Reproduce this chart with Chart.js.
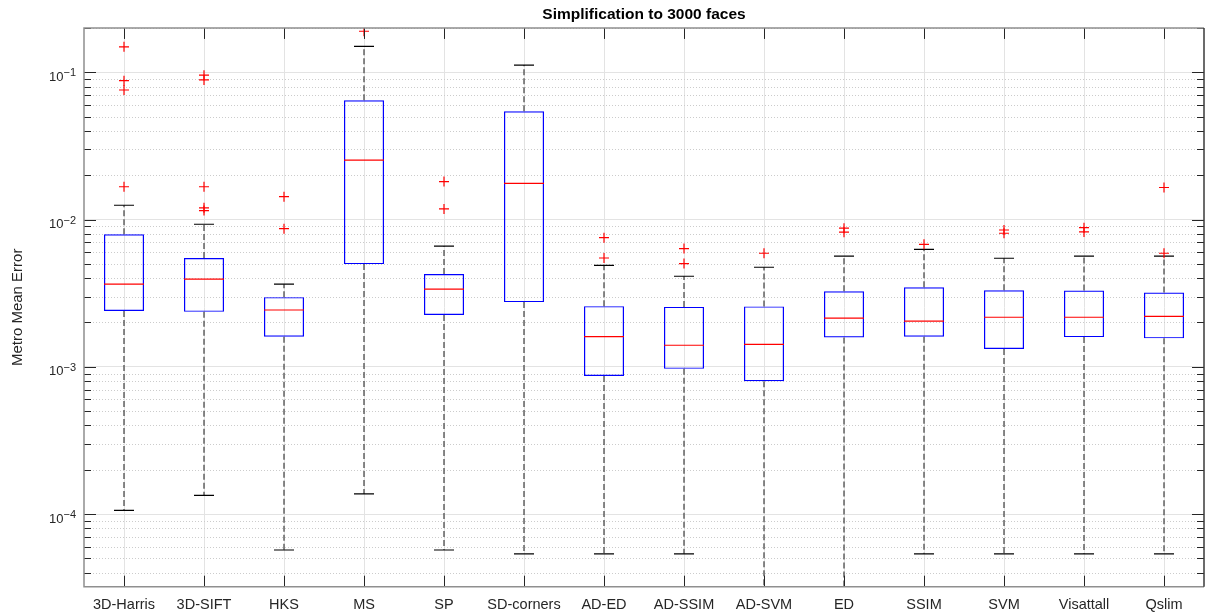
<!DOCTYPE html>
<html>
<head>
<meta charset="utf-8">
<script src="https://cdn.jsdelivr.net/npm/chart.js@4/dist/chart.umd.min.js"></script>
<style>
  html, body { margin: 0; padding: 0; background: #ffffff; }
  #wrap { width: 1207px; height: 613px; position: relative; }
</style>
</head>
<body>
<div id="wrap"><canvas id="c" width="1207" height="613"></canvas></div>
<script>
// ---------------- data ----------------
const categories = ['3D-Harris','3D-SIFT','HKS','MS','SP','SD-corners','AD-ED','AD-SSIM','AD-SVM','ED','SSIM','SVM','Visattall','Qslim'];
const lowerWhisker = [1.06e-4, 1.34e-4, 5.7e-5, 1.37e-4, 5.7e-5, 5.37e-5, 5.37e-5, 5.37e-5, 3.2e-5, 3.2e-5, 5.37e-5, 5.37e-5, 5.37e-5, 5.37e-5];
const q1Values     = [0.00239, 0.00236, 0.00160, 0.00498, 0.00225, 0.00275, 0.000867, 0.000968, 0.000798, 0.00158, 0.00160, 0.00132, 0.00159, 0.00156];
const medianValues = [0.00364, 0.00394, 0.00243, 0.0253, 0.00337, 0.0176, 0.00160, 0.00140, 0.00142, 0.00214, 0.00204, 0.00217, 0.00217, 0.00220];
const q3Values     = [0.00794, 0.00548, 0.00297, 0.0646, 0.00426, 0.0543, 0.00258, 0.00255, 0.00257, 0.00326, 0.00347, 0.00331, 0.00329, 0.00319];
const upperWhisker = [0.0125, 0.00929, 0.00364, 0.150, 0.00659, 0.112, 0.00489, 0.00412, 0.00474, 0.00564, 0.00628, 0.00546, 0.00564, 0.00564];
const outlierValues = [
  [0.149, 0.0877, 0.0758, 0.0167],
  [0.0955, 0.0887, 0.0167, 0.0120, 0.0115],
  [0.0143, 0.00867],
  [0.190],
  [0.0181, 0.0118],
  [],
  [0.00753, 0.00548],
  [0.00635, 0.00502],
  [0.00590],
  [0.00873, 0.00820],
  [0.00679],
  [0.00849, 0.00807],
  [0.00881, 0.00824],
  [0.0165, 0.00590]
];
const yMajorTicks = [1e-4, 1e-3, 1e-2, 1e-1];
const yTickBase = '10';
const yTickExponents = ['\u22124', '\u22123', '\u22122', '\u22121'];
const yMin = 3.21e-5, yMax = 0.2;
const titleText = 'Simplification to 3000 faces';
const yTitle = 'Metro Mean Error';

// minor tick values 2..9 x 10^k inside the range
const yMinorTicks = [];
for (let e = -5; e <= -1; e++) for (let m = 2; m <= 9; m++) {
  const v = m * Math.pow(10, e);
  if (v >= yMin && v <= yMax * 1.0001) yMinorTicks.push(v);
}

// ---------------- derived datasets ----------------
const boxData = categories.map((c, i) => [q1Values[i], q3Values[i]]);
const medianData = categories.map((c, i) => ({x: c, y: medianValues[i]}));
const capData = [];
const whiskerData = [];
categories.forEach((c, i) => {
  capData.push({x: c, y: upperWhisker[i]}, {x: c, y: lowerWhisker[i]});
  whiskerData.push({x: c, y: q3Values[i]}, {x: c, y: upperWhisker[i]}, {x: c, y: null},
                   {x: c, y: q1Values[i]}, {x: c, y: lowerWhisker[i]}, {x: c, y: null});
});
const outlierData = [];
categories.forEach((c, i) => outlierValues[i].forEach(v => outlierData.push({x: c, y: v})));

const FONT = "'Liberation Sans', Arial, Helvetica, sans-serif";
const TXT = '#262626';

// ---------------- MATLAB-like axes decoration ----------------
const axisDecor = {
  id: 'axisDecor',
  beforeDatasetsDraw(chart) {
    const {ctx, chartArea: a, scales: {y}} = chart;
    ctx.save();
    ctx.strokeStyle = '#cccccc';
    ctx.lineWidth = 1;
    ctx.setLineDash([1, 2]);
    yMinorTicks.forEach(v => {
      const py = Math.round(y.getPixelForValue(v)) + 0.5;
      ctx.beginPath(); ctx.moveTo(a.left, py); ctx.lineTo(a.right, py); ctx.stroke();
    });
    ctx.restore();
  },
  afterDraw(chart) {
    const {ctx, chartArea: a, scales: {x, y}} = chart;
    ctx.save();
    ctx.strokeStyle = TXT;
    ctx.lineWidth = 1;
    ctx.setLineDash([]);
    ctx.beginPath();
    yMajorTicks.forEach(v => {
      const py = Math.round(y.getPixelForValue(v)) + 0.5;
      ctx.moveTo(a.left, py); ctx.lineTo(a.left + 12, py);
      ctx.moveTo(a.right, py); ctx.lineTo(a.right - 12, py);
    });
    yMinorTicks.forEach(v => {
      const py = Math.round(y.getPixelForValue(v)) + 0.5;
      ctx.moveTo(a.left, py); ctx.lineTo(a.left + 7, py);
      ctx.moveTo(a.right, py); ctx.lineTo(a.right - 7, py);
    });
    categories.forEach((c, i) => {
      const px = Math.round(x.getPixelForValue(i)) + 0.5;
      ctx.moveTo(px, a.top); ctx.lineTo(px, a.top + 11);
      ctx.moveTo(px, a.bottom); ctx.lineTo(px, a.bottom - 11);
    });
    ctx.stroke();
    // box
    ctx.lineWidth = 1.5;
    ctx.strokeStyle = '#8f8f8f';
    ctx.beginPath();
    ctx.moveTo(a.right, a.top); ctx.lineTo(a.left, a.top); ctx.lineTo(a.left, a.bottom); ctx.lineTo(a.right, a.bottom);
    ctx.stroke();
    ctx.strokeStyle = '#3a3a3a';
    ctx.beginPath();
    ctx.moveTo(a.right, a.top); ctx.lineTo(a.right, a.bottom);
    ctx.stroke();
    // y tick labels: 10 with superscript exponent
    ctx.fillStyle = TXT;
    ctx.textBaseline = 'alphabetic';
    ctx.textAlign = 'left';
    const right = a.left - 8;
    yMajorTicks.forEach((v, k) => {
      const py = y.getPixelForValue(v);
      ctx.font = "11px " + FONT;
      const ew = ctx.measureText(yTickExponents[k]).width;
      ctx.font = "13px " + FONT;
      const bw = ctx.measureText(yTickBase).width;
      const x0 = right - ew - bw;
      ctx.fillText(yTickBase, x0, py + 8.7);
      ctx.font = "11px " + FONT;
      ctx.fillText(yTickExponents[k], x0 + bw, py + 4.2);
    });
    ctx.restore();
  }
};

new Chart(document.getElementById('c'), {
  type: 'bar',
  data: {
    labels: categories,
    datasets: [
      {
        type: 'line', label: 'median', data: medianData, showLine: false,
        pointStyle: 'line', pointRadius: 20, pointBorderColor: '#ff0000', pointBorderWidth: 1.2,
        pointBackgroundColor: '#ff0000', pointHoverRadius: 20
      },
      {
        type: 'line', label: 'outliers', data: outlierData, showLine: false,
        pointStyle: 'cross', pointRadius: 5, pointBorderColor: '#ff0000', pointBorderWidth: 1.2,
        pointHoverRadius: 5
      },
      {
        type: 'line', label: 'caps', data: capData, showLine: false,
        pointStyle: 'line', pointRadius: 10, pointBorderColor: '#000000', pointBorderWidth: 1.2,
        pointHoverRadius: 10
      },
      {
        type: 'line', label: 'whiskers', data: whiskerData, spanGaps: false,
        borderColor: '#3c3c3c', borderWidth: 1.2, borderDash: [6, 3], pointRadius: 0,
        pointHoverRadius: 0, tension: 0, fill: false
      },
      {
        type: 'bar', label: 'box', data: boxData,
        backgroundColor: 'rgba(0,0,0,0)', borderColor: '#0000ff', borderWidth: 1.2,
        borderSkipped: false, barPercentage: 0.5, categoryPercentage: 1.0
      }
    ]
  },
  options: {
    responsive: false,
    animation: false,
    events: [],
    layout: { autoPadding: false, padding: { left: 0, right: 3, top: 0, bottom: 0 } },
    plugins: {
      legend: { display: false },
      tooltip: { enabled: false },
      title: {
        display: true, text: titleText, fullSize: false, color: '#000000',
        font: { family: FONT, size: 15.5, weight: 'bold', lineHeight: 1.1 },
        padding: { top: 6, bottom: 4.9 }
      }
    },
    scales: {
      x: {
        type: 'category',
        offset: true,
        grid: { offset: false, color: '#e3e3e3', lineWidth: 1, drawTicks: false },
        border: { display: false },
        ticks: { color: TXT, font: { family: FONT, size: 14.5 }, padding: 10, maxRotation: 0, minRotation: 0, autoSkip: false },
        afterFit: s => { s.height = 26.3; s.paddingLeft = 0; s.paddingRight = 0; }
      },
      y: {
        type: 'logarithmic',
        min: yMin, max: yMax,
        afterBuildTicks: s => { s.ticks = yMajorTicks.map(v => ({value: v, major: true})); },
        grid: { color: '#e3e3e3', lineWidth: 1, drawTicks: false },
        border: { display: false },
        ticks: { display: false },
        title: {
          display: true, text: yTitle, color: TXT,
          font: { family: FONT, size: 15 }, padding: { top: 9, bottom: 0 }
        },
        afterFit: s => { s.width = 84; s.paddingTop = 0; s.paddingBottom = 0; }
      }
    }
  },
  plugins: [axisDecor]
});
</script>
</body>
</html>
